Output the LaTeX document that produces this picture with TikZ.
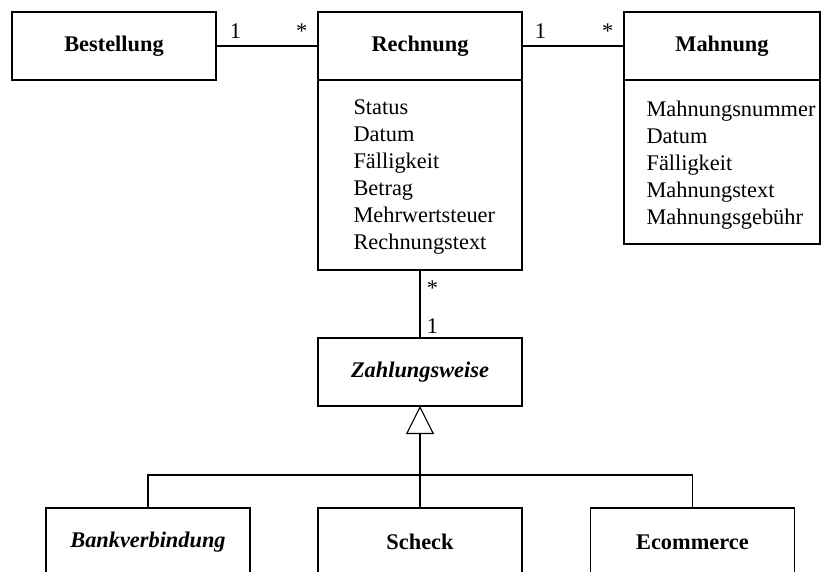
\documentclass[tikz,border=0pt]{standalone}
\usepackage{fontspec}
\setmainfont{Liberation Serif}
\usetikzlibrary{positioning, arrows.meta}
\newcommand\umlsize{\fontsize{15.9pt}{19.2pt}\selectfont}
\tikzset{classhead/.style={draw, outer sep=0pt, minimum width=5.1cm, minimum height=1.7cm, font=\umlsize\bfseries}}
\tikzset{abstracthead/.style={classhead, font=\umlsize\bfseries\itshape}}
\tikzset{classbody/.style={draw, outer sep=0pt, minimum width=5.1cm}}
\tikzset{attrs/.style={inner sep=0pt, align=left, font=\umlsize}}
\tikzset{mult/.style={above, inner sep=5pt, font=\umlsize}}
\tikzset{multr/.style={right, inner sep=4.5pt, font=\umlsize}}
\tikzset{inherit/.style={draw, -{Triangle[open, length=0.7cm, width=0.7cm]}}}

\begin{document}
\begin{tikzpicture}[line width=0.8pt]
	\useasboundingbox (0, 0) rectangle (20.525, -14.275);
	\clip (0, 0) rectangle (20.525, -14.275);

	\node[classhead] (bestellung) at (2.85, -1.15) {Bestellung};

	\node[classhead] (rechnung) at (10.5, -1.15) {Rechnung};
	\node[classbody, minimum height=4.75cm, below=0pt of rechnung] (rechnungbody) {};
	\node[attrs, below right=0.49cm and 0.875cm of rechnung.south west] (rechnungattr)
		{Status\\ Datum\\ Fälligkeit\\ Betrag\\ Mehrwertsteuer\\ Rechnungstext};

	\node[classhead, minimum width=4.9cm] (mahnung) at (18.05, -1.15) {Mahnung};
	\node[classbody, minimum width=4.9cm, minimum height=4.1cm, below=0pt of mahnung] (mahnungbody) {};
	\node[attrs, below right=0.5cm and 0.55cm of mahnung.south west] (mahnungattr)
		{Mahnungsnummer\\ Datum\\ Fälligkeit\\ Mahnungstext\\ Mahnungsgebühr};

	\node[abstracthead] (zahlung) at (10.5, -9.3) {Zahlungsweise};

	\node[abstracthead] (bank) at (3.7, -13.55) {Bankverbindung};
	\node[classhead] (scheck) at (10.5, -13.55) {Scheck};
	\node[classhead] (ecom) at (17.31, -13.55) {Ecommerce};

	\draw (bestellung) -- node[mult, pos=0.19]{1} node[mult, pos=0.84]{*} (rechnung);
	\draw (rechnung) -- node[mult, pos=0.18]{1} node[mult, pos=0.84]{*} (mahnung);
	\draw (rechnungbody) -- node[multr, pos=0.26]{*} node[multr, pos=0.83]{1} (zahlung);

	\coordinate (fork) at (10.5, -11.875);
	\draw[inherit] (scheck) -- (zahlung);
	\draw (bank.north) |- (fork) -| (ecom.north);
\end{tikzpicture}
\end{document}
